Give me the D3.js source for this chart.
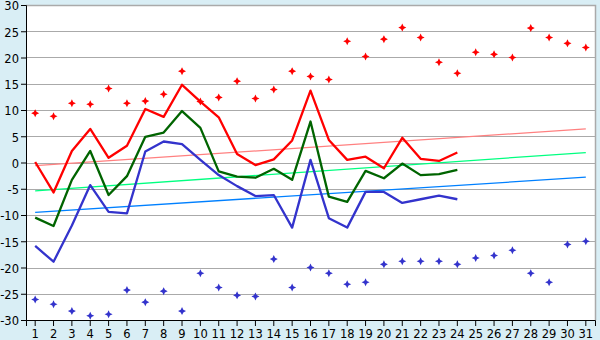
<!DOCTYPE html>
<html><head><meta charset="utf-8">
<script src="https://cdn.jsdelivr.net/npm/d3@7/dist/d3.min.js"></script>
<style>html,body{margin:0;padding:0;background:#d9eef5;}svg{display:block;}</style>
</head><body>
<svg id="c" width="600" height="340"></svg>
<script>
const days = d3.range(1, 32);
const yTicks = [-30,-25,-20,-15,-10,-5,0,5,10,15,20,25,30];
const redLine = [0.1,-5.7,2.2,6.4,0.9,3.2,10.2,8.7,14.8,11.6,8.6,1.6,-0.5,0.6,4.2,13.7,4.3,0.5,1.1,-1.1,4.7,0.7,0.3,1.9];
const greenLine = [-10.5,-12.1,-3.3,2.2,-6.2,-2.6,4.9,5.7,9.8,6.6,-1.7,-2.7,-2.9,-1.2,-3.3,7.8,-6.5,-7.5,-1.6,-3.0,-0.2,-2.4,-2.2,-1.4];
const blueLine = [-15.9,-18.9,-12.0,-4.3,-9.4,-9.7,2.1,4.0,3.5,0.5,-2.4,-4.5,-6.4,-6.2,-12.4,0.5,-10.6,-12.4,-5.6,-5.6,-7.7,-7.0,-6.3,-7.0];
const redMarks = [9.4,8.8,11.3,11.1,14.1,11.3,11.7,13.0,17.4,11.6,12.4,15.5,12.2,13.9,17.4,16.4,15.8,23.1,20.2,23.5,25.7,23.8,19.1,17.0,21.0,20.6,20.0,25.6,23.8,22.7,21.9];
const blueMarks = [-26.1,-27.0,-28.3,-29.2,-28.9,-24.3,-26.6,-24.5,-28.3,-21.1,-23.8,-25.3,-25.5,-18.4,-23.8,-20.0,-21.1,-23.2,-22.8,-19.4,-18.8,-18.8,-18.8,-19.4,-18.2,-17.7,-16.7,-21.1,-22.8,-15.6,-15.0];
const trendRed = [-0.6, 6.4];
const trendGreen = [-5.4, 1.9];
const trendBlue = [-9.5, -2.8];

const svg = d3.select("#c");
const L = 26, R = 595, T = 5, B = 320;
const x = d3.scaleBand().domain(days).range([L, R]);
const cx = d => x(d) + x.bandwidth() / 2;
const y = d3.scaleLinear().domain([-30, 30]).range([B, T]);
const FONT = "DejaVu Sans, Verdana, sans-serif";

svg.append("rect").attr("x", L).attr("y", T).attr("width", R - L).attr("height", B - T).attr("fill", "#fff");

// grid
svg.append("g").selectAll("line").data(yTicks).join("line")
  .attr("x1", L).attr("x2", R).attr("y1", d => Math.round(y(d)) + 0.5).attr("y2", d => Math.round(y(d)) + 0.5)
  .attr("stroke", "#aaaaaa").attr("stroke-width", 1);
// border top/right
svg.append("path").attr("d", `M${L},${T + 0.5}H${R + 0.5}V${B}`).attr("fill", "none").attr("stroke", "#aaaaaa").attr("stroke-width", 1.5);

// axes
const yAxis = d3.axisLeft(y).tickValues(yTicks).tickSize(5).tickPadding(2).tickFormat(d => String(d));
const gy = svg.append("g").attr("transform", `translate(${L},0)`).call(yAxis);
gy.select(".domain").attr("stroke", "#000");
gy.selectAll("text").attr("font-family", FONT).attr("font-size", 11.5).attr("fill", "#000").attr("y", 1.2);
const xAxis = d3.axisBottom(x).tickSize(6).tickPadding(4);
const gx = svg.append("g").attr("transform", `translate(0,${B})`).call(xAxis);
gx.select(".domain").attr("stroke", "#000");
gx.selectAll("text").attr("font-family", FONT).attr("font-size", 11.5).attr("fill", "#000");

// trend lines
function trend(vals, color) {
  svg.append("line").attr("x1", cx(1)).attr("x2", cx(31)).attr("y1", y(vals[0])).attr("y2", y(vals[1]))
    .attr("stroke", color).attr("stroke-width", 1.3);
}
trend(trendRed, "#ff8080");
trend(trendGreen, "#00ff80");
trend(trendBlue, "#0080ff");

// lines
const line = d3.line().x((d, i) => cx(days[i])).y(d => y(d));
function drawLine(vals, color) {
  svg.append("path").datum(vals).attr("d", line).attr("fill", "none").attr("stroke", color).attr("stroke-width", 2.3).attr("stroke-linejoin", "round");
}
drawLine(redLine, "#ff0000");
drawLine(greenLine, "#006400");
drawLine(blueLine, "#3333cc");

// markers
const star = "M0,-4L1.3,-1.3L4,0L1.3,1.3L0,4L-1.3,1.3L-4,0L-1.3,-1.3Z";
function marks(vals, color) {
  svg.append("g").selectAll("path").data(vals).join("path")
    .attr("d", star).attr("fill", color)
    .attr("transform", (d, i) => `translate(${cx(days[i])},${y(d)})`);
}
marks(redMarks, "#ff0000");
marks(blueMarks, "#3333cc");
</script>
</body></html>
